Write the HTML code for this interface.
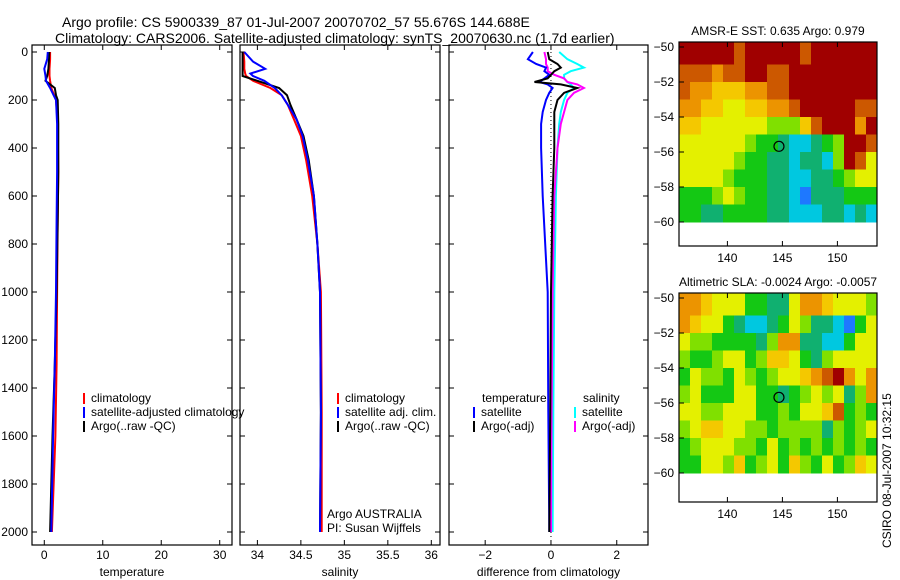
<!DOCTYPE html>
<html><head><meta charset="utf-8"><style>
body{margin:0;background:#fff;}
svg{display:block;font-family:"Liberation Sans",sans-serif;}
text{font-size:12px;fill:#000;}
</style></head><body>
<svg id="c" width="900" height="580" xmlns="http://www.w3.org/2000/svg">
<text x="62" y="27" style="font-size:14px">Argo profile: CS 5900339_87 01-Jul-2007 20070702_57 55.676S 144.688E</text>
<text x="55" y="43" style="font-size:14px">Climatology: CARS2006. Satellite-adjusted climatology: synTS_20070630.nc (1.7d earlier)</text>
<text transform="translate(891,548) rotate(-90)">CSIRO 08-Jul-2007 10:32:15</text>
</svg>
<script>
// ---- profile data ----
const tempDepth=[0,30,70,100,120,150,180,200,300,500,700,1000,1300,1600,2000];
const tempClim=[1.0,1.0,0.9,0.9,1.0,1.2,1.7,2.0,2.3,2.4,2.3,2.2,2.1,1.9,1.3];
const tempSat=[0.6,0.5,0.0,0.2,0.3,1.0,1.6,2.0,2.2,2.2,2.1,2.0,1.8,1.5,1.2];
const tempArgo=[0.85,0.8,0.7,0.5,0.2,1.8,2.0,2.3,2.4,2.4,2.3,2.1,1.8,1.4,1.0];
const salDepth=[0,40,70,90,100,120,150,180,220,280,350,450,600,800,1000,1500,2000];
const salClim=[33.84,33.85,33.85,33.86,33.87,33.95,34.15,34.28,34.35,34.42,34.5,34.56,34.63,34.69,34.73,34.74,34.74];
const salSat=[33.85,33.95,34.09,33.92,33.95,34.08,34.2,34.28,34.35,34.45,34.52,34.58,34.65,34.69,34.72,34.73,34.72];
const salArgo=[33.83,33.83,33.83,33.83,33.83,34.0,34.25,34.34,34.38,34.45,34.53,34.59,34.65,34.69,34.72,34.73,34.72];
const diffDepth=[0,30,50,65,80,95,110,125,135,150,170,200,250,300,400,600,1000,1500,2000];
const diffTSat=[-0.55,-0.7,-0.45,-0.15,-0.2,-0.05,-0.2,-0.35,-0.1,0.05,-0.05,-0.15,-0.25,-0.3,-0.3,-0.25,-0.1,-0.08,-0.05];
const diffTArgo=[-0.1,-0.05,0.2,0.3,0.1,0.0,-0.1,-0.5,0.3,0.8,0.4,0.2,0.1,0.1,0.1,0.05,0.0,-0.02,-0.05];
const diffSSat=[0.25,0.5,0.8,1.0,0.6,0.4,0.4,0.5,0.6,0.7,0.5,0.4,0.3,0.25,0.2,0.15,0.1,0.07,0.05];
const diffSArgo=[-0.2,-0.15,-0.15,-0.1,-0.1,0.1,0.4,0.5,0.8,1.0,0.7,0.5,0.4,0.3,0.2,0.1,0.05,0.02,0.0];
const depthTicks=[0,200,400,600,800,1000,1200,1400,1600,1800,2000];
const tempTicks=[0,10,20,30];
const salTicks=[34,34.5,35,35.5,36];
const diffTicks=[-2,0,2];
// ---- map data (palette index per 1-degree cell, rows -50 to -60, cols 135.6 to 153.6) ----
const sstGrid=["999998999998999999","888788998899999999","877666778899999999","776655667789999988","665555554446899979","555555433211234998","555554332212214985","555543332211223455","333454332210222333","332233332211122121"];
const slaGrid=["776555332257765554","765532112354221035","544333324772211355","433455346653245555","354435434556789757","453335533234545247","554455533435568343","456655443444424345","345554435343434343","335546345364353465"];
const mapLatTicks=[-50,-52,-54,-56,-58,-60];
const mapLonTicks=[140,145,150];
const argoLon=144.688, argoLat=-55.676;
const palette=["#1e78ff","#00c8e0","#10b070","#14c814","#80e000","#e4f000","#f4c800","#ec9400","#cc5800","#a00000"];

const svg=document.getElementById('c');
const NS="http://www.w3.org/2000/svg";
function mk(tag,attrs,parent){const e=document.createElementNS(NS,tag);for(const k in attrs)e.setAttribute(k,attrs[k]);(parent||svg).appendChild(e);return e;}
function txt(x,y,s,anchor,parent){const t=mk('text',{x:x,y:y,'text-anchor':anchor||'start'},parent);t.textContent=s;return t;}

const Y0=52, KY=0.24, BOT=545;
function yD(d){return Y0+d*KY;}

function panel(name,x0,x1,vmin,vmax,ticks,label,showY){
  const g=mk('g',{});
  
  
  const fx=v=>x0+(v-vmin)/(vmax-vmin)*(x1-x0);
  const r=mk('rect',{x:x0,y:Y0-7,width:x1-x0,height:BOT-(Y0-7),fill:'none',stroke:'#000','stroke-width':1.2},g);
  
  
  depthTicks.forEach(d=>{const y=yD(d);
    mk('line',{x1:x0,x2:x0+5,y1:y,y2:y,stroke:'#000'},g);
    mk('line',{x1:x1,x2:x1-5,y1:y,y2:y,stroke:'#000'},g);
    if(showY){const t=txt(x0-4,y+4,String(d),'end',g);
      
      }
  });
  ticks.forEach(v=>{const x=fx(v);
    mk('line',{x1:x,x2:x,y1:BOT,y2:BOT-5,stroke:'#000'},g);
    mk('line',{x1:x,x2:x,y1:Y0-7,y2:Y0-2,stroke:'#000'},g);
    const t=txt(x,BOT+14,String(v).replace('-','\u2212'),'middle',g);
    
    
  });
  const xl=txt((x0+x1)/2,BOT+31,label,'middle',g);
  
  
  const clip=mk('clipPath',{id:'clip-'+name},g);
  mk('rect',{x:x0,y:Y0-7,width:x1-x0,height:BOT-Y0+7},clip);
  return {g,fx,clipId:'clip-'+name};
}
function line(p,depths,vals,color,name,w){
  const pts=depths.map((d,i)=>p.fx(vals[i]).toFixed(1)+','+yD(d).toFixed(1)).join(' ');
  const l=mk('polyline',{points:pts,fill:'none',stroke:color,'stroke-width':w||2,'clip-path':'url(#'+p.clipId+')'},p.g);
  
  
}
function legend(p,x,y,color,label,name){
  mk('line',{x1:x,x2:x,y1:y-9,y2:y+2,stroke:color,'stroke-width':2},p.g);
  const t=txt(x+7,y,label,'start',p.g);
  
  
}

// temperature
const pT=panel('temperature',32,232,-2.1,32.1,tempTicks,'temperature',true);
line(pT,tempDepth,tempClim,'#f00','temp-climatology-line');
line(pT,tempDepth,tempArgo,'#000','temp-argo-line');
line(pT,tempDepth,tempSat,'#00f','temp-satellite-line');
legend(pT,84,402,'#f00','climatology','legend-entry-climatology');
legend(pT,84,416,'#00f','satellite-adjusted climatology','legend-entry-satellite');
legend(pT,84,430,'#000','Argo(..raw -QC)','legend-entry-argo');

// salinity
const pS=panel('salinity',240,440,33.8,36.1,salTicks,'salinity',false);
line(pS,salDepth,salClim,'#f00','sal-climatology-line');
line(pS,salDepth,salArgo,'#000','sal-argo-line');
line(pS,salDepth,salSat,'#00f','sal-satellite-line');
legend(pS,338,402,'#f00','climatology','legend-entry-climatology');
legend(pS,338,416,'#00f','satellite adj. clim.','legend-entry-satellite');
legend(pS,338,430,'#000','Argo(..raw -QC)','legend-entry-argo');
const a1=txt(327,518,'Argo AUSTRALIA','start',pS.g);


const a2=txt(327,532,'PI: Susan Wijffels','start',pS.g);



// difference
const pD=panel('difference',449,648,-3.1,2.95,diffTicks,'difference from climatology',false);
mk('line',{x1:pD.fx(0),x2:pD.fx(0),y1:Y0,y2:BOT-5,stroke:'#000','stroke-dasharray':'1,3'},pD.g);
line(pD,diffDepth,diffSSat,'#00ffff','diff-sal-satellite-line');
line(pD,diffDepth,diffSArgo,'#ff00ff','diff-sal-argo-line');
line(pD,diffDepth,diffTSat,'#00f','diff-temp-satellite-line');
line(pD,diffDepth,diffTArgo,'#000','diff-temp-argo-line');
const lt=txt(482,402,'temperature','start',pD.g);
const ls=txt(583,402,'salinity','start',pD.g);
legend(pD,474,416,'#00f','satellite','legend-entry-temp-satellite');
legend(pD,474,430,'#000','Argo(-adj)','legend-entry-temp-argo');
legend(pD,575,416,'#00ffff','satellite','legend-entry-sal-satellite');
legend(pD,575,430,'#ff00ff','Argo(-adj)','legend-entry-sal-argo');

// maps
function map(name,top,bottom,grid,title){
  const g=mk('g',{});
  
  
  const X0=679,X1=877,lonMin=135.6,lonMax=153.6;
  const y50=top+5, ky=17.5;
  const fx=v=>X0+(v-lonMin)/(lonMax-lonMin)*(X1-X0);
  const fy=v=>y50+(-50-v)*ky;
  grid.forEach((row,r)=>{[...row].forEach((c,i)=>{
    const x=fx(lonMin+i);
    const rc=mk('rect',{x:x.toFixed(1),y:(r==0?top:fy(-50-r)).toFixed(1),width:(fx(lonMin+i+1)-x+0.5).toFixed(1),height:((r==0?fy(-51)-top:ky)+0.5).toFixed(1),fill:palette[+c]},g);
    
    
  });});
  mk('rect',{x:X0,y:fy(-60.1),width:X1-X0,height:bottom-fy(-60.1),fill:'#fff'},g);
  mk('rect',{x:X0,y:top,width:X1-X0,height:bottom-top,fill:'none',stroke:'#000','stroke-width':1.2},g);
  mapLatTicks.forEach(v=>{const y=fy(v);
    mk('line',{x1:X0,x2:X0+5,y1:y,y2:y,stroke:'#000'},g);
    const t=txt(X0-5,y+4,String(v).replace('-','\u2212'),'end',g);
    
    });
  mapLonTicks.forEach(v=>{const x=fx(v);
    mk('line',{x1:x,x2:x,y1:bottom,y2:bottom-5,stroke:'#000'},g);
    mk('line',{x1:x,x2:x,y1:top,y2:top+5,stroke:'#000'},g);
    const t=txt(x,bottom+16,String(v),'middle',g);
    
    });
  const c=mk('circle',{cx:fx(argoLon),cy:fy(argoLat),r:5,fill:'none',stroke:'#000','stroke-width':1.2},g);
  
  
  const t=txt(778,top-7,title,'middle',g);
  
  
}
map('sst',42,246,sstGrid,'AMSR-E SST: 0.635 Argo: 0.979');
map('sla',293,502,slaGrid,'Altimetric SLA: -0.0024  Argo: -0.0057');
</script>
</body></html>
